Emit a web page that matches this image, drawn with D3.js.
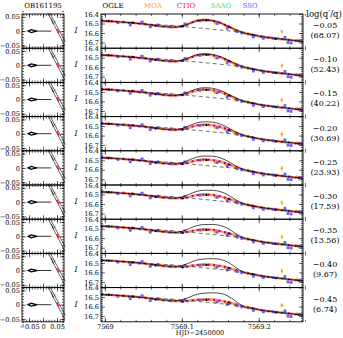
<!DOCTYPE html>
<html>
<head>
<meta charset="utf-8">
<script src="https://cdn.jsdelivr.net/npm/d3@7"></script>
<style>
  body { margin: 0; background: #fff; }
  text { font-family: "DejaVu Serif", "Liberation Serif", serif; }
</style>
</head>
<body>
<svg id="chart" width="343" height="338"></svg>
<script>
// ---- chart values ----
var logQ = ["\u22120.05", "\u22120.10", "\u22120.15", "\u22120.20", "\u22120.25", "\u22120.30", "\u22120.35", "\u22120.40", "\u22120.45"]
var dchi = ["(68.07)", "(52.43)", "(40.22)", "(30.69)", "(23.93)", "(17.59)", "(13.56)", "(9.67)", "(6.74)"]
var surveys = ["OGLE", "MOA", "CTIO", "SAAO", "SSO"]
var surveyColors = ["#000000", "#ffa500", "#ff1a1a", "#55dd55", "#6a5cff"]

var hjdTicks = [7569, 7569.1, 7569.2]
var magTicks = [16.4, 16.5, 16.6, 16.7]
var geoTicks = [-0.05, 0, 0.05]

// best model (top panel), outside the anomaly it is the same in every panel
var modelT = [7568.995, 7569.010, 7569.020, 7569.030, 7569.040, 7569.050, 7569.060, 7569.070, 7569.080,
              7569.200, 7569.210, 7569.220, 7569.230, 7569.240, 7569.250, 7569.258]
var modelMag = [16.472, 16.478, 16.484, 16.490, 16.497, 16.505, 16.515, 16.526, 16.534,
                16.633, 16.646, 16.656, 16.665, 16.674, 16.683, 16.690]

// anomaly part, one row per panel
var bumpT = [7569.09, 7569.10, 7569.11, 7569.12, 7569.13, 7569.14, 7569.15, 7569.16, 7569.17, 7569.18, 7569.19]
var redBump = [
  [16.539, 16.528, 16.500, 16.470, 16.462, 16.470, 16.493, 16.530, 16.567, 16.597, 16.617],
  [16.539, 16.529, 16.503, 16.474, 16.466, 16.474, 16.496, 16.531, 16.567, 16.597, 16.617],
  [16.539, 16.531, 16.508, 16.482, 16.475, 16.482, 16.502, 16.534, 16.568, 16.597, 16.617],
  [16.540, 16.533, 16.514, 16.492, 16.485, 16.491, 16.509, 16.538, 16.569, 16.597, 16.617],
  [16.540, 16.535, 16.519, 16.499, 16.492, 16.498, 16.514, 16.541, 16.570, 16.598, 16.617],
  [16.540, 16.537, 16.524, 16.506, 16.500, 16.505, 16.520, 16.545, 16.571, 16.598, 16.617],
  [16.541, 16.539, 16.529, 16.514, 16.508, 16.512, 16.526, 16.548, 16.572, 16.598, 16.617],
  [16.541, 16.541, 16.534, 16.522, 16.518, 16.521, 16.533, 16.553, 16.574, 16.599, 16.617],
  [16.541, 16.542, 16.538, 16.528, 16.525, 16.527, 16.538, 16.556, 16.575, 16.599, 16.617]
]
var blackBump = [
  [16.539, 16.528, 16.500, 16.470, 16.462, 16.470, 16.493, 16.530, 16.567, 16.597, 16.617],
  [16.539, 16.527, 16.498, 16.468, 16.459, 16.466, 16.489, 16.527, 16.566, 16.597, 16.617],
  [16.539, 16.526, 16.496, 16.466, 16.456, 16.462, 16.484, 16.522, 16.564, 16.597, 16.617],
  [16.540, 16.526, 16.495, 16.465, 16.455, 16.459, 16.479, 16.516, 16.561, 16.597, 16.617],
  [16.540, 16.526, 16.495, 16.465, 16.455, 16.457, 16.474, 16.510, 16.558, 16.597, 16.617],
  [16.540, 16.527, 16.496, 16.466, 16.455, 16.456, 16.470, 16.504, 16.555, 16.597, 16.617],
  [16.541, 16.528, 16.497, 16.467, 16.456, 16.455, 16.466, 16.498, 16.551, 16.597, 16.617],
  [16.541, 16.529, 16.499, 16.469, 16.458, 16.455, 16.463, 16.493, 16.547, 16.597, 16.617],
  [16.541, 16.530, 16.500, 16.470, 16.459, 16.455, 16.461, 16.489, 16.543, 16.597, 16.617]
]

// single-lens curve (dashed)
var singleT = [7568.995, 7569.030, 7569.060, 7569.090, 7569.110, 7569.130, 7569.150, 7569.170,
               7569.185, 7569.200, 7569.220, 7569.240, 7569.258]
var singleMag = [16.472, 16.490, 16.508, 16.524, 16.538, 16.553, 16.569, 16.586,
                 16.604, 16.628, 16.652, 16.672, 16.690]

// photometry [HJD-2450000, I, err], values as in the top panel
var ogle = [[7569.005, 16.474, 0.006], [7569.036, 16.491, 0.006], [7569.066, 16.522, 0.006],
            [7569.101, 16.530, 0.006], [7569.132, 16.466, 0.006], [7569.161, 16.533, 0.006],
            [7569.192, 16.620, 0.006], [7569.222, 16.660, 0.006], [7569.252, 16.683, 0.006]]
var moa = [[7569.024, 16.480, 0.015], [7569.050, 16.490, 0.020], [7569.074, 16.525, 0.020],
           [7569.087, 16.535, 0.025], [7569.128, 16.465, 0.020], [7569.143, 16.495, 0.020],
           [7569.156, 16.520, 0.020], [7569.169, 16.570, 0.025], [7569.186, 16.610, 0.020],
           [7569.204, 16.640, 0.020], [7569.225, 16.655, 0.020], [7569.230, 16.585, 0.025],
           [7569.250, 16.675, 0.020]]
var ctio = [[7569.002, 16.474, 0.005], [7569.009, 16.476, 0.005], [7569.016, 16.485, 0.005],
            [7569.024, 16.486, 0.005], [7569.031, 16.492, 0.005], [7569.038, 16.494, 0.005],
            [7569.045, 16.503, 0.005], [7569.053, 16.507, 0.005], [7569.061, 16.518, 0.005],
            [7569.068, 16.522, 0.005], [7569.076, 16.532, 0.005], [7569.084, 16.538, 0.005],
            [7569.092, 16.536, 0.005], [7569.099, 16.531, 0.005], [7569.107, 16.512, 0.005],
            [7569.114, 16.487, 0.005], [7569.121, 16.470, 0.005], [7569.128, 16.463, 0.005],
            [7569.135, 16.465, 0.005], [7569.142, 16.474, 0.005], [7569.149, 16.490, 0.005],
            [7569.156, 16.513, 0.005], [7569.163, 16.541, 0.005], [7569.171, 16.570, 0.005],
            [7569.178, 16.591, 0.005], [7569.186, 16.609, 0.005], [7569.194, 16.624, 0.005],
            [7569.203, 16.636, 0.005], [7569.212, 16.648, 0.005], [7569.221, 16.657, 0.005],
            [7569.230, 16.664, 0.005], [7569.239, 16.672, 0.005], [7569.248, 16.681, 0.005],
            [7569.255, 16.686, 0.005]]
var saao = [[7569.182, 16.603, 0.008], [7569.208, 16.642, 0.008], [7569.236, 16.668, 0.008]]
var sso = [[7568.996, 16.470, 0.010], [7569.017, 16.490, 0.010], [7569.033, 16.515, 0.010],
           [7569.048, 16.485, 0.010], [7569.059, 16.535, 0.010], [7569.069, 16.515, 0.010],
           [7569.085, 16.530, 0.010], [7569.104, 16.505, 0.010], [7569.124, 16.470, 0.010],
           [7569.146, 16.500, 0.010], [7569.159, 16.550, 0.010], [7569.172, 16.585, 0.010],
           [7569.178, 16.600, 0.010], [7569.193, 16.640, 0.010], [7569.206, 16.655, 0.010],
           [7569.219, 16.655, 0.010], [7569.234, 16.645, 0.010], [7569.238, 16.700, 0.010],
           [7569.242, 16.705, 0.010], [7569.254, 16.680, 0.010]]
var photometry = [ogle, moa, ctio, saao, sso]

// lens geometry (theta_E units)
var causticPts = [[-0.053, 0], [-0.042, 0.005], [-0.030, 0.002], [-0.021, 0], [-0.030, -0.002], [-0.042, -0.005]]
var lensAxis = [[-0.021, 0], [0.030, 0]]
var trajectory = [[0.017, 0.064], [0.078, -0.052]]
var trajectory2 = [[0.024, 0.064], [0.080, -0.038]]
var arrowHead = [[0.030, 0.044], [0.036, 0.026], [0.044, 0.036]]
var anomalyPath = [[0.049, 0.008], [0.057, -0.007]]

// ---- layout ----
var topY = 14, panelH = 34.2, nPanels = 9
var mainL = 101, mainR = 303
var geoL = 22, geoR = 64

var svg = d3.select("#chart")

var x = d3.scaleLinear().domain([7568.995, 7569.2575]).range([mainL, mainR])
var y = d3.scaleLinear().domain([16.4, 16.76]).range([0, panelH])
var gx = d3.scaleLinear().domain([-0.075, 0.075]).range([geoL, geoR])
var gy = d3.scaleLinear().domain([-0.06, 0.06]).range([panelH, 0])

function panelCurve(bump) {
  var pts = modelT.map(function(t, i) { return [t, modelMag[i]] })
  bumpT.forEach(function(t, i) { pts.push([t, bump[i]]) })
  pts.sort(function(a, b) { return a[0] - b[0] })
  return pts
}

var line = d3.line()
  .x(function(d) { return x(d[0]) })
  .y(function(d) { return y(d[1]) })
  .curve(d3.curveMonotoneX)

var gline = d3.line()
  .x(function(d) { return gx(d[0]) })
  .y(function(d) { return gy(d[1]) })

var bumpRef = d3.scaleLinear().domain(bumpT).range(redBump[0]).clamp(true)

function frameAxes(g, xs, ys, xMaj, xMin, yMaj, yMin, showX, showY, yFmt, xFmt) {
  var fs = "6.6px"
  g.append("g").attr("transform", "translate(0," + panelH + ")")
    .call(d3.axisBottom(xs).tickValues(xMin).tickSize(-2).tickFormat(""))
  g.append("g").attr("transform", "translate(0," + panelH + ")")
    .call(d3.axisBottom(xs).tickValues(xMaj).tickSize(-4).tickPadding(3).tickFormat(showX ? xFmt : ""))
  g.append("g").call(d3.axisTop(xs).tickValues(xMin).tickSize(-2).tickFormat(""))
  g.append("g").call(d3.axisTop(xs).tickValues(xMaj).tickSize(-4).tickFormat(""))
  g.append("g").attr("transform", "translate(" + xs.range()[0] + ",0)")
    .call(d3.axisLeft(ys).tickValues(yMin).tickSize(-2).tickFormat(""))
  g.append("g").attr("transform", "translate(" + xs.range()[0] + ",0)")
    .call(d3.axisLeft(ys).tickValues(yMaj).tickSize(-4).tickPadding(2).tickFormat(showY ? yFmt : ""))
  g.append("g").attr("transform", "translate(" + xs.range()[1] + ",0)")
    .call(d3.axisRight(ys).tickValues(yMin).tickSize(-2).tickFormat(""))
  g.append("g").attr("transform", "translate(" + xs.range()[1] + ",0)")
    .call(d3.axisRight(ys).tickValues(yMaj).tickSize(-4).tickFormat(""))
  g.selectAll(".domain").remove()
  g.selectAll(".tick line").attr("stroke", "#000").attr("stroke-width", 0.6)
  g.selectAll(".tick text").attr("font-size", fs).attr("fill", "#000")
    .attr("font-family", "DejaVu Serif, serif")
  g.append("rect")
    .attr("x", xs.range()[0]).attr("y", 0)
    .attr("width", xs.range()[1] - xs.range()[0]).attr("height", panelH)
    .attr("fill", "none").attr("stroke", "#000").attr("stroke-width", 0.9)
}

var magMinor = d3.range(16.42, 16.76, 0.02)
var hjdMinor = d3.range(7569, 7569.26, 0.02)
var geoMinor = d3.range(-0.07, 0.071, 0.01)

d3.range(nPanels).forEach(function(p) {
  var last = p === nPanels - 1
  var g = svg.append("g").attr("transform", "translate(0," + (topY + p * panelH) + ")")

  // -- light curve panel --
  var clipId = "clip" + p
  g.append("clipPath").attr("id", clipId).append("rect")
    .attr("x", mainL).attr("y", 0).attr("width", mainR - mainL).attr("height", panelH)
  var body = g.append("g").attr("clip-path", "url(#" + clipId + ")")

  var redCurve = panelCurve(redBump[p])
  var bumpP = d3.scaleLinear().domain(bumpT).range(redBump[p]).clamp(true)

  body.append("path").attr("d", line(redCurve))
    .attr("fill", "none").attr("stroke", "#ff3030").attr("stroke-opacity", 0.55).attr("stroke-width", 2.6)

  photometry.forEach(function(set, s) {
    var pts = set.map(function(d) { return [d[0], d[1] + bumpP(d[0]) - bumpRef(d[0]), d[2]] })
    var col = s === 2 ? "#b0102a" : surveyColors[s]
    body.selectAll(null).data(pts).enter().append("line")
      .attr("x1", function(d) { return x(d[0]) }).attr("x2", function(d) { return x(d[0]) })
      .attr("y1", function(d) { return y(d[1] - d[2]) }).attr("y2", function(d) { return y(d[1] + d[2]) })
      .attr("stroke", col).attr("stroke-width", 0.8)
    if (s === 4) {
      body.selectAll(null).data(pts).enter().append("rect")
        .attr("x", function(d) { return x(d[0]) - 1.4 }).attr("y", function(d) { return y(d[1]) - 1.4 })
        .attr("width", 2.8).attr("height", 2.8).attr("fill", col)
    } else {
      body.selectAll(null).data(pts).enter().append("circle")
        .attr("cx", function(d) { return x(d[0]) }).attr("cy", function(d) { return y(d[1]) })
        .attr("r", s === 2 ? 1.1 : 1.2).attr("fill", col)
    }
  })

  body.append("path").attr("d", line(singleT.map(function(t, i) { return [t, singleMag[i]] })))
    .attr("fill", "none").attr("stroke", "#333").attr("stroke-width", 0.7).attr("stroke-dasharray", "4,3")
  body.append("path").attr("d", line(panelCurve(blackBump[p])))
    .attr("fill", "none").attr("stroke", "#000").attr("stroke-width", 0.7)

  frameAxes(g, x, y, hjdTicks, hjdMinor, magTicks, magMinor, last, true,
    d3.format(".1f"), function(d) { return String(+d.toFixed(1)) })

  g.append("text").attr("x", 76).attr("y", panelH / 2 + 2)
    .attr("font-size", "7.5px").attr("font-style", "italic").attr("text-anchor", "middle").text("I")

  // -- lens geometry panel --
  var geo = g.append("g")
  geo.append("path").attr("d", gline(lensAxis)).attr("stroke", "#000").attr("stroke-width", 0.8).attr("fill", "none")
  geo.append("path").attr("d", gline(causticPts) + "Z").attr("stroke", "#000").attr("stroke-width", 1.3).attr("fill", "#fff")
  geo.append("path").attr("d", gline(trajectory)).attr("stroke", "#000").attr("stroke-width", 0.6).attr("fill", "none")
  geo.append("path").attr("d", gline(trajectory2)).attr("stroke", "#000").attr("stroke-width", 0.6).attr("fill", "none")
  geo.append("path").attr("d", gline(arrowHead)).attr("stroke", "#000").attr("stroke-width", 0.6).attr("fill", "none")
  geo.append("path").attr("d", gline(anomalyPath)).attr("stroke", "#ff2020").attr("stroke-width", 1.6).attr("fill", "none")

  frameAxes(g, gx, gy, geoTicks, geoMinor, geoTicks, geoMinor, last, true,
    function(d) { return d === 0 ? "0" : d3.format(".2f")(d) },
    function(d) { return d === 0 ? "0" : d3.format(".2f")(d) })

  // -- right labels --
  g.append("text").attr("x", 325).attr("y", panelH / 2 - 3).attr("text-anchor", "middle")
    .attr("font-size", "8px").text(logQ[p])
  g.append("text").attr("x", 325).attr("y", panelH / 2 + 7).attr("text-anchor", "middle")
    .attr("font-size", "8px").text(dchi[p])
})

// titles
svg.append("text").attr("x", 43).attr("y", 8).attr("text-anchor", "middle").attr("font-size", "7px").text("OB161195")
var titleX = [113, 153, 186, 221, 250]
surveys.forEach(function(s, i) {
  svg.append("text").attr("x", titleX[i]).attr("y", 8).attr("text-anchor", "middle")
    .attr("font-size", "7px").attr("fill", surveyColors[i]).text(s)
})
svg.append("text").attr("x", 324).attr("y", 17).attr("text-anchor", "middle").attr("font-size", "8.5px").text("log(q\u2032/q)")
svg.append("text").attr("x", 200).attr("y", 335).attr("text-anchor", "middle").attr("font-size", "6.6px").text("HJD\u22122450000")
</script>
</body>
</html>
